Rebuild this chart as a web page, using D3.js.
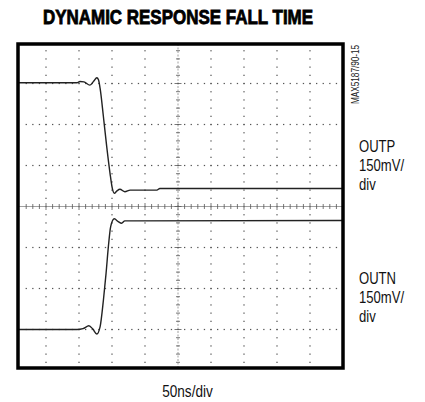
<!DOCTYPE html>
<html>
<head>
<meta charset="utf-8">
<script src="https://cdn.jsdelivr.net/npm/d3@7"></script>
<style>
  html, body { margin: 0; padding: 0; background: #fff; }
  svg { display: block; font-family: "Liberation Sans", Arial, sans-serif; }
</style>
</head>
<body>
<svg id="chart" width="425" height="402"></svg>
<script>
// time in divisions (50ns/div), level in divisions (150mV/div)
const outpTime  = [0.15, 1.94, 2.03, 2.15, 2.33, 2.45, 2.54, 2.59, 2.64, 2.74, 2.84, 2.94, 3.01, 3.07, 3.15, 3.24, 3.39, 3.55, 4.36, 4.45, 10];
const outpLevel = [3.02, 3.02, 3.05, 3.04, 2.96, 3.06, 3.14, 3.09, 2.88, 2.19, 1.46, 0.81, 0.44, 0.32, 0.38, 0.42, 0.36, 0.40, 0.40, 0.44, 0.44];

const outnTime  = [0.15, 1.94, 2.12, 2.30, 2.42, 2.54, 2.64, 2.74, 2.82, 2.89, 2.96, 3.07, 3.19, 3.29, 3.39, 3.64, 10];
const outnLevel = [-3.0, -3.0, -2.98, -2.91, -2.99, -3.11, -2.93, -2.28, -1.63, -0.98, -0.49, -0.30, -0.37, -0.41, -0.35, -0.35, -0.34];

const xDivs = [1, 2, 3, 4, 6, 7, 8, 9];
const yDivs = [-3, -2, -1, 1, 2, 3];

const title = "DYNAMIC RESPONSE FALL TIME";
const xLabel = "50ns/div";
const noteId = "MAX5187/90-15";
const outpLabel = ["OUTP", "150mV/", "div"];
const outnLabel = ["OUTN", "150mV/", "div"];

const svg = d3.select("#chart");

let x = d3.scaleLinear().domain([0, 10]).range([13, 343]);
let y = d3.scaleLinear().domain([-4, 4]).range([370.5, 42.5]);

let frame = {left: 18, top: 44, right: 343, bottom: 368};

// graticule dots, every 1/5 division
let sub = d3.range(0, 10.01, 0.2);
let subY = d3.range(-4, 4.01, 0.2);
let grid = svg.append("g").attr("fill", "#555");

xDivs.forEach(function(d){
	grid.selectAll(null)
		.data(subY.filter(v => y(v) > frame.top + 3 && y(v) < frame.bottom - 3))
		.enter().append("rect")
		.attr("x", x(d) - 0.6)
		.attr("y", v => y(v) - 0.6)
		.attr("width", 1.2)
		.attr("height", 1.3);
});
yDivs.forEach(function(d){
	grid.selectAll(null)
		.data(sub.filter(v => x(v) > frame.left + 3 && x(v) < frame.right - 3))
		.enter().append("rect")
		.attr("x", v => x(v) - 0.6)
		.attr("y", y(d) - 0.6)
		.attr("width", 1.3)
		.attr("height", 1.2);
});

// center axes with minor ticks
let axes = svg.append("g").attr("stroke", "#888").attr("stroke-width", 0.8);
axes.append("line")
	.attr("x1", frame.left).attr("x2", frame.right)
	.attr("y1", y(0)).attr("y2", y(0));
axes.append("line")
	.attr("x1", x(5)).attr("x2", x(5))
	.attr("y1", frame.top).attr("y2", frame.bottom)
	.attr("stroke-dasharray", "2,1.5");

axes.selectAll("line.tx")
	.data(sub.filter(v => x(v) > frame.left + 2 && x(v) < frame.right - 2))
	.enter().append("line")
	.attr("class", "tx")
	.attr("stroke", "#555")
	.attr("x1", v => x(v)).attr("x2", v => x(v))
	.attr("y1", v => y(0) - (Math.abs(v - Math.round(v)) < 0.01 ? 3.5 : 2.5))
	.attr("y2", v => y(0) + (Math.abs(v - Math.round(v)) < 0.01 ? 3.5 : 2.5));

axes.selectAll("line.ty")
	.data(subY.filter(v => y(v) > frame.top + 2 && y(v) < frame.bottom - 2))
	.enter().append("line")
	.attr("class", "ty")
	.attr("stroke", "#555")
	.attr("y1", v => y(v)).attr("y2", v => y(v))
	.attr("x1", v => x(5) - (Math.abs(v - Math.round(v)) < 0.01 ? 3.5 : 2))
	.attr("x2", v => x(5) + (Math.abs(v - Math.round(v)) < 0.01 ? 3.5 : 2));

// traces
const line = d3.line()
	.x(d => x(d[0]))
	.y(d => y(d[1]))
	.curve(d3.curveMonotoneX);

let traces = svg.append("g")
	.attr("fill", "none")
	.attr("stroke", "#222")
	.attr("stroke-width", 1.4)
	.attr("stroke-linejoin", "round");

traces.append("path").attr("d", line(d3.zip(outpTime, outpLevel)));
traces.append("path").attr("d", line(d3.zip(outnTime, outnLevel)));

// frame
svg.append("rect")
	.attr("x", frame.left).attr("y", frame.top)
	.attr("width", frame.right - frame.left)
	.attr("height", frame.bottom - frame.top)
	.attr("fill", "none")
	.attr("stroke", "#000")
	.attr("stroke-width", 3.5);

// texts
svg.append("text")
	.attr("transform", "translate(178,24) scale(0.87,1)")
	.attr("text-anchor", "middle")
	.attr("font-size", 19.5)
	.attr("font-weight", "bold")
	.attr("stroke", "#000")
	.attr("stroke-width", 0.8)
	.text(title);

svg.append("text")
	.attr("transform", "translate(187.5,396.5) scale(0.8,1)")
	.attr("text-anchor", "middle")
	.attr("font-size", 17)
	.attr("fill", "#111")
	.text(xLabel);

svg.append("text")
	.attr("transform", "translate(358.5,104) rotate(-90) scale(0.82,1)")
	.attr("font-size", 10)
	.attr("fill", "#222")
	.text(noteId);

function sideLabel(lines, top){
	let g = svg.append("g").attr("transform", "translate(359," + top + ") scale(0.77,1)");
	g.selectAll("text")
		.data(lines)
		.enter().append("text")
		.attr("x", 0)
		.attr("y", (d, i) => i * 19.5)
		.attr("font-size", 17)
		.attr("fill", "#111")
		.text(d => d);
}
sideLabel(outpLabel, 151.5);
sideLabel(outnLabel, 283.5);
</script>
</body>
</html>
